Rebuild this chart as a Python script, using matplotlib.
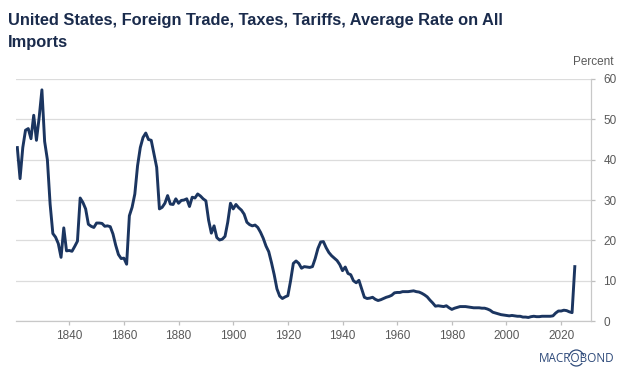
import numpy as np
import matplotlib
matplotlib.use("Agg")
import matplotlib.pyplot as plt
from matplotlib.patches import Arc

plt.rcParams['font.family'] = ['Liberation Sans', 'DejaVu Sans']

# Average tariff rate on all imports, percent (annual)
years = list(range(1821, 2026))
rate = [
    # 1821-1830
    43.0, 35.3, 43.0, 47.3, 47.7, 45.2, 51.0, 44.8, 50.5, 57.3,
    # 1831-1840
    44.5, 40.0, 29.0, 21.7, 20.8, 19.2, 15.8, 23.1, 17.4, 17.5,
    # 1841-1850
    17.3, 18.5, 19.8, 30.5, 29.4, 27.8, 24.0, 23.5, 23.2, 24.3,
    # 1851-1860
    24.3, 24.2, 23.5, 23.6, 23.4, 21.6, 18.8, 16.5, 15.5, 15.6,
    # 1861-1870
    14.1, 26.1, 28.2, 31.5, 38.5, 43.0, 45.5, 46.6, 45.0, 44.8,
    # 1871-1880
    41.5, 38.1, 27.8, 28.2, 29.2, 31.1, 29.0, 28.9, 30.3, 29.2,
    # 1881-1890
    29.9, 30.0, 30.3, 28.4, 30.7, 30.5, 31.5, 31.0, 30.3, 29.8,
    # 1891-1900
    25.0, 21.8, 23.6, 20.7, 20.1, 20.3, 21.0, 24.5, 29.2, 27.8,
    # 1901-1910
    28.9, 28.1, 27.5, 26.5, 24.5, 23.9, 23.6, 23.8, 23.2, 22.0,
    # 1911-1920
    20.5, 18.6, 17.2, 14.5, 11.5, 8.0, 6.2, 5.6, 6.0, 6.3,
    # 1921-1930
    10.0, 14.3, 14.9, 14.3, 13.1, 13.5, 13.4, 13.3, 13.5, 15.5,
    # 1931-1940
    18.0, 19.6, 19.7, 18.2, 17.0, 16.2, 15.6, 15.0, 14.0, 12.5,
    # 1941-1950
    13.4, 11.8, 11.5, 10.0, 9.5, 10.1, 8.0, 5.9, 5.6, 5.7,
    # 1951-1960
    5.9, 5.4, 5.1, 5.3, 5.6, 5.9, 6.1, 6.4, 7.0, 7.1,
    # 1961-1970
    7.1, 7.3, 7.3, 7.3, 7.4, 7.5, 7.3, 7.2, 6.9, 6.5,
    # 1971-1980
    6.0, 5.2, 4.5, 3.7, 3.8, 3.7, 3.6, 3.8, 3.3, 2.9,
    # 1981-1990
    3.2, 3.4, 3.6, 3.6, 3.6, 3.5, 3.4, 3.3, 3.3, 3.3,
    # 1991-2000
    3.2, 3.2, 3.0, 2.7, 2.2, 2.0, 1.8, 1.6, 1.5, 1.4,
    # 2001-2010
    1.3, 1.4, 1.3, 1.2, 1.2, 1.0, 1.0, 0.9, 1.1, 1.2,
    # 2011-2020
    1.1, 1.1, 1.2, 1.2, 1.2, 1.2, 1.3, 2.0, 2.5, 2.5,
    # 2021-2025
    2.7, 2.6, 2.3, 2.1, 13.5,
]

x_ticks = [1840, 1860, 1880, 1900, 1920, 1940, 1960, 1980, 2000, 2020]
y_ticks = [0, 10, 20, 30, 40, 50, 60]

navy = '#1b3560'
grey_txt = '#595959'
grid_c = '#dcdcdc'
logo_c = '#2e4a7a'

W, H = 624, 376
fig = plt.figure(figsize=(W / 100, H / 100), dpi=100)
ax = fig.add_axes([0.026, 0.146, 0.921, 0.644])

ax.plot(years, rate, color=navy, lw=2.1, solid_joinstyle='round')

ax.set_xlim(1820.6, 2030.9)
ax.set_ylim(0, 60)
ax.set_xticks(x_ticks)
ax.set_yticks(y_ticks)
ax.yaxis.tick_right()
ax.grid(axis='y', color=grid_c, lw=0.9)
ax.set_axisbelow(True)
for s in ['top', 'left']:
    ax.spines[s].set_visible(False)
for s in ['bottom', 'right']:
    ax.spines[s].set_color('#c8c8c8')
    ax.spines[s].set_linewidth(0.9)
ax.tick_params(axis='both', colors='#bfbfbf', labelcolor=grey_txt,
               labelsize=8.5, length=3, width=0.9)
ax.tick_params(axis='y', pad=6)

# title, two lines
title_font = dict(fontsize=11.8, fontweight='bold', color='#1a2b4c')
fig.text(8 / W, 1 - 25 / H, 'United States, Foreign Trade, Taxes, Tariffs, Average Rate on All',
         ha='left', va='baseline', **title_font)
fig.text(8 / W, 1 - 47 / H, 'Imports', ha='left', va='baseline', **title_font)

fig.text(613 / W, 1 - 65 / H, 'Percent', ha='right', va='baseline', fontsize=8.5, color=grey_txt)

# Macrobond mark
logo = fig.text(615 / W, 1 - 362 / H, 'MACROBOND', ha='right', va='baseline',
                fontsize=8.5, color=logo_c, family=['Open Sans', 'DejaVu Sans'])
r = fig.canvas.get_renderer()
bb = logo.get_window_extent(r)
probe = fig.text(0, 0, 'MACR', fontsize=8.5, family=['Open Sans', 'DejaVu Sans'])
w_macr = probe.get_window_extent(r).width
probe_o = fig.text(0, 0, 'O', fontsize=8.5, family=['Open Sans', 'DejaVu Sans'])
w_o = probe_o.get_window_extent(r).width
probe.remove()
probe_o.remove()
cx = (bb.x0 + w_macr + w_o / 2) / W
cy = (H - 358) / H
fig.patches.append(Arc((cx, cy), 15 / W, 16 / H, theta1=25, theta2=155,
                       transform=fig.transFigure, color=logo_c, lw=0.9))
fig.patches.append(Arc((cx, cy), 15 / W, 16 / H, theta1=235, theta2=305,
                       transform=fig.transFigure, color=logo_c, lw=0.9))

fig.savefig('out.png', dpi=100)
